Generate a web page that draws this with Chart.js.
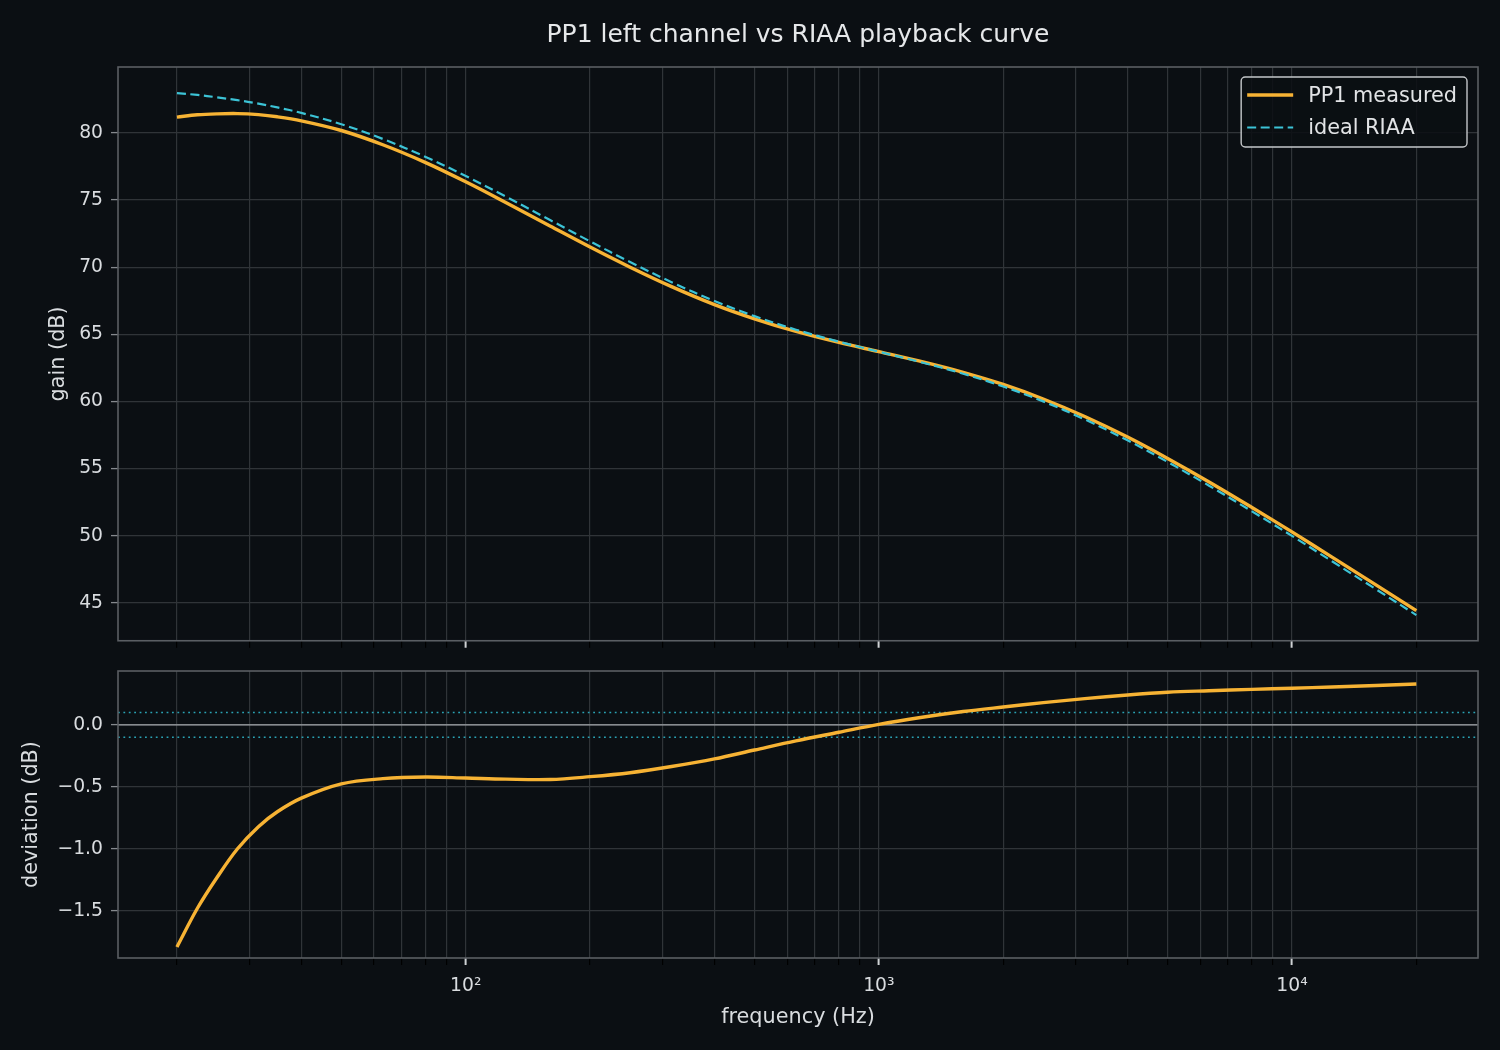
<!DOCTYPE html>
<html>
<head>
<meta charset="utf-8">
<title>PP1 left channel vs RIAA playback curve</title>
<script src="https://cdn.jsdelivr.net/npm/chart.js@4.4.1/dist/chart.umd.min.js"></script>
<style>
    body { margin: 0; background: #0b0f13; }
    #wrap { position: relative; width: 1500px; height: 1050px; overflow: hidden; }
    #grafico-ganho { position: absolute; left: 0; top: 0; }
    #grafico-desvio { position: absolute; left: 0; top: 650px; }
</style>
</head>
<body>
<div id="wrap">
    <canvas id="grafico-ganho" width="1500" height="660"></canvas>
    <canvas id="grafico-desvio" width="1500" height="400"></canvas>
</div>
<script>
// values
const freqHz = [20, 22.4, 25, 28, 31.5, 35, 40, 50, 63, 80, 100, 125, 160, 200, 250, 315, 400, 500, 630, 800,
    1000, 1250, 1600, 2000, 2500, 3150, 4000, 5000, 6300, 8000, 10000, 12500, 16000, 20000];
const measuredDb = [81.18, 81.35, 81.42, 81.44, 81.36, 81.20, 80.90, 80.18, 79.12, 77.79, 76.36, 74.82, 73.07, 71.50,
    70.00, 68.55, 67.21, 66.15, 65.21, 64.39, 63.71, 63.02, 62.17, 61.26, 60.18, 58.87, 57.34, 55.75, 54.00, 52.10,
    50.28, 48.40, 46.31, 44.41];
const riaaDb = [82.97, 82.83, 82.65, 82.44, 82.18, 81.90, 81.49, 80.65, 79.55, 78.21, 76.79, 75.26, 73.51, 71.92,
    70.38, 68.88, 67.48, 66.35, 65.34, 64.45, 63.70, 62.96, 62.06, 61.11, 60.00, 58.66, 57.10, 55.49, 53.72, 51.81,
    49.98, 48.09, 45.99, 44.08];
const deviationDb = [-1.79, -1.48, -1.23, -1.00, -0.82, -0.70, -0.59, -0.475, -0.433, -0.42, -0.428, -0.437, -0.44,
    -0.417, -0.385, -0.335, -0.274, -0.202, -0.128, -0.059, 0.005, 0.058, 0.108, 0.145, 0.18, 0.212, 0.242, 0.264,
    0.276, 0.287, 0.296, 0.306, 0.318, 0.33];

const xMajorTicks = [100, 1000, 10000];
const xMajorLabels = ['10²', '10³', '10⁴'];
const xMinorTicks = [20, 30, 40, 50, 60, 70, 80, 90, 200, 300, 400, 500, 600, 700, 800, 900,
    2000, 3000, 4000, 5000, 6000, 7000, 8000, 9000, 20000];
const gainTicks = [45, 50, 55, 60, 65, 70, 75, 80];
const devTicks = [-1.5, -1.0, -0.5, 0.0];
const devTickLabels = ['−1.5', '−1.0', '−0.5', '0.0'];
const toleranceDb = [0.1, -0.1];

const corTexto = '#d9dcdf';
const corGrade = '#303438';
const corMoldura = '#5a5e63';
const laranja = '#f7b334';
const ciano = '#3cc3d6';

Chart.defaults.font.family = "'DejaVu Sans', sans-serif";
Chart.defaults.color = corTexto;

function pontos(valores) {
    return freqHz.map((f, i) => ({ x: f, y: valores[i] }));
}

function eixoX(mostrarRotulos, altura, titulo) {
    return {
        type: 'logarithmic',
        min: 14.4,
        max: 28200,
        afterBuildTicks: (scale) => {
            const lista = xMajorTicks.map(v => ({ value: v, major: true }))
                .concat(xMinorTicks.map(v => ({ value: v, major: false })));
            scale.ticks = lista.sort((a, b) => a.value - b.value);
        },
        afterFit: (scale) => { scale.height = altura; },
        border: { display: false },
        grid: {
            color: corGrade,
            lineWidth: 1.2,
            tickLength: 7,
            tickColor: (ctx) => (ctx.tick && ctx.tick.major ? '#cfd2d5' : '#000000'),
            tickWidth: (ctx) => (ctx.tick && ctx.tick.major ? 2 : 1.2)
        },
        ticks: {
            display: mostrarRotulos,
            autoSkip: false,
            maxRotation: 0,
            padding: 10,
            color: corTexto,
            font: { size: 18.75 },
            callback: (value) => {
                const i = xMajorTicks.indexOf(value);
                return i >= 0 ? xMajorLabels[i] : '';
            }
        },
        title: {
            display: !!titulo,
            text: titulo || '',
            color: corTexto,
            font: { size: 20.8 },
            padding: { top: 0, bottom: 20 }
        }
    };
}

function eixoY(min, max, valores, rotulos, titulo, recuo) {
    return {
        min: min,
        max: max,
        afterBuildTicks: (scale) => { scale.ticks = valores.map(v => ({ value: v })); },
        afterFit: (scale) => { scale.width = 118; },
        border: { display: false },
        grid: { color: corGrade, lineWidth: 1.2, tickLength: 7, tickColor: '#85898d', tickWidth: 1.3 },
        ticks: {
            padding: 8,
            color: corTexto,
            font: { size: 18.75 },
            callback: (value) => {
                const i = valores.indexOf(value);
                return rotulos ? rotulos[i] : String(value);
            }
        },
        title: {
            display: true,
            text: titulo,
            color: corTexto,
            font: { size: 20.8 },
            padding: { top: recuo, bottom: 0 }
        }
    };
}

// moldura dos quatro lados
const moldura = {
    id: 'moldura',
    afterDatasetsDraw(chart) {
        const a = chart.chartArea;
        const ctx = chart.ctx;
        ctx.save();
        ctx.strokeStyle = corMoldura;
        ctx.lineWidth = 1.6;
        ctx.strokeRect(a.left, a.top, a.right - a.left, a.bottom - a.top);
        ctx.restore();
    }
};

// legenda dentro da area do grafico
const legendaInterna = {
    id: 'legendaInterna',
    afterDraw(chart) {
        const ctx = chart.ctx;
        const a = chart.chartArea;
        const itens = chart.data.datasets.slice().sort((p, q) => q.order - p.order);
        ctx.save();
        ctx.font = "20.8px 'DejaVu Sans'";
        const larguraTexto = Math.max(...itens.map(d => ctx.measureText(d.label).width));
        const w = 6 + 46 + 16 + larguraTexto + 9;
        const h = 70;
        const x0 = a.right - 11 - w;
        const y0 = a.top + 10;
        ctx.beginPath();
        ctx.roundRect(x0, y0, w, h, 4);
        ctx.fillStyle = 'rgba(11,15,19,0.85)';
        ctx.fill();
        ctx.strokeStyle = '#c4c7ca';
        ctx.lineWidth = 1.4;
        ctx.stroke();
        itens.forEach((d, i) => {
            const yy = y0 + 18 + i * 32.5;
            ctx.beginPath();
            ctx.setLineDash(d.borderDash || []);
            ctx.strokeStyle = d.borderColor;
            ctx.lineWidth = d.borderWidth;
            ctx.moveTo(x0 + 6, yy);
            ctx.lineTo(x0 + 52, yy);
            ctx.stroke();
            ctx.setLineDash([]);
            ctx.fillStyle = '#e2e4e6';
            ctx.textBaseline = 'middle';
            ctx.textAlign = 'left';
            ctx.fillText(d.label, x0 + 67, yy + 1.5);
        });
        ctx.restore();
    }
};

// linha de zero e faixa de tolerancia
const linhasReferencia = {
    id: 'linhasReferencia',
    beforeDatasetsDraw(chart) {
        const ctx = chart.ctx;
        const a = chart.chartArea;
        const y = chart.scales.y;
        ctx.save();
        ctx.strokeStyle = '#a4a8ac';
        ctx.lineWidth = 1.3;
        ctx.beginPath();
        ctx.moveTo(a.left, y.getPixelForValue(0));
        ctx.lineTo(a.right, y.getPixelForValue(0));
        ctx.stroke();
        ctx.strokeStyle = '#2aa2b3';
        ctx.lineWidth = 1.5;
        ctx.setLineDash([1.8, 3.6]);
        toleranceDb.forEach(v => {
            ctx.beginPath();
            ctx.moveTo(a.left, y.getPixelForValue(v));
            ctx.lineTo(a.right, y.getPixelForValue(v));
            ctx.stroke();
        });
        ctx.restore();
    }
};

new Chart(document.getElementById('grafico-ganho'), {
    type: 'line',
    data: {
        datasets: [
            {
                label: 'PP1 measured',
                data: pontos(measuredDb),
                borderColor: laranja,
                borderWidth: 3.4,
                pointRadius: 0,
                tension: 0.35,
                order: 1
            },
            {
                label: 'ideal RIAA',
                data: pontos(riaaDb),
                borderColor: ciano,
                borderWidth: 2.2,
                borderDash: [9, 4.5],
                pointRadius: 0,
                tension: 0.35,
                order: 0
            }
        ]
    },
    options: {
        responsive: false,
        animation: false,
        layout: { padding: { left: 0, right: 22, top: 0, bottom: 0 } },
        scales: {
            x: eixoX(false, 19, ''),
            y: eixoY(42.17, 84.91, gainTicks, null, 'gain (dB)', 46)
        },
        plugins: {
            legend: { display: false },
            tooltip: { enabled: false },
            title: {
                display: true,
                text: 'PP1 left channel vs RIAA playback curve',
                fullSize: false,
                color: '#e6e8ea',
                font: { size: 25, weight: 'normal' },
                padding: { top: 20, bottom: 17 }
            }
        }
    },
    plugins: [moldura, legendaInterna]
});

new Chart(document.getElementById('grafico-desvio'), {
    type: 'line',
    data: {
        datasets: [{
            label: 'deviation',
            data: pontos(deviationDb),
            borderColor: laranja,
            borderWidth: 3.4,
            pointRadius: 0,
            tension: 0.35
        }]
    },
    options: {
        responsive: false,
        animation: false,
        layout: { padding: { left: 0, right: 22, top: 21, bottom: 0 } },
        scales: {
            x: eixoX(true, 92, 'frequency (Hz)'),
            y: eixoY(-1.879, 0.435, devTicks, devTickLabels, 'deviation (dB)', 19.5)
        },
        plugins: {
            legend: { display: false },
            tooltip: { enabled: false }
        }
    },
    plugins: [linhasReferencia, moldura]
});
</script>
</body>
</html>
